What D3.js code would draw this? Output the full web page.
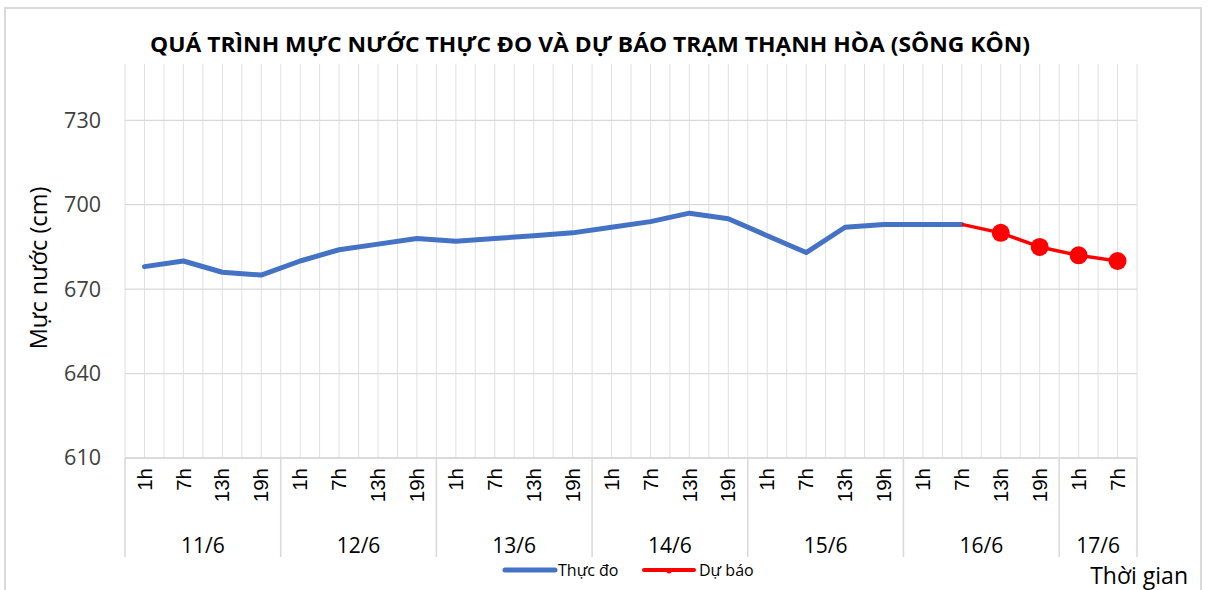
<!DOCTYPE html>
<html><head><meta charset="utf-8">
<script src="https://cdn.jsdelivr.net/npm/d3@7/dist/d3.min.js"></script>
<style>body{margin:0;background:#fff;}svg{display:block;font-family:"Open Sans","Noto Sans",sans-serif;}</style>
</head><body><svg id="c" width="1208" height="590"></svg>
<script>
const days = ["11/6","12/6","13/6","14/6","15/6","16/6","17/6"];
const dayCounts = [4,4,4,4,4,4,2];
const hours = ["1h","7h","13h","19h","1h","7h","13h","19h","1h","7h","13h","19h","1h","7h","13h","19h","1h","7h","13h","19h","1h","7h","13h","19h","1h","7h"];
const observed = [678,680,676,675,680,684,686,688,687,688,689,690,692,694,697,695,689,683,692,693,693,693,null,null,null,null];
const forecast = [null,null,null,null,null,null,null,null,null,null,null,null,null,null,null,null,null,null,null,null,null,693,690,685,682,680];
const forecastMarkers = [false,false,false,false,false,false,false,false,false,false,false,false,false,false,false,false,false,false,false,false,false,false,true,true,true,true];
const yTicks = [610,640,670,700,730];
const title = "QUÁ TRÌNH MỰC NƯỚC THỰC ĐO VÀ DỰ BÁO TRẠM THẠNH HÒA (SÔNG KÔN)";

const svg = d3.select("#c");
const L = 125, R = 1137, T = 64, B = 458;
const idx = d3.range(hours.length);
const x = d3.scaleBand().domain(idx).range([L, R]).padding(0);
const cx = i => x(i) + x.bandwidth()/2;
const y = d3.scaleLinear().domain([610, 750]).range([B, T]);

// outer border
svg.append("rect").attr("x",5).attr("y",8).attr("width",1196).attr("height",600)
  .attr("fill","none").attr("stroke","#d9d9d9").attr("stroke-width",2);

// title
svg.append("text").attr("x",590).attr("y",52).attr("text-anchor","middle")
  .attr("font-size",22).attr("font-weight","bold").attr("fill","#000")
  .attr("textLength",880).attr("lengthAdjust","spacingAndGlyphs").text(title);

// vertical gridlines (half category steps)
const vg = d3.range(0, hours.length*2+1).map(k => L + k * x.bandwidth()/2);
svg.append("g").selectAll("line").data(vg).join("line")
  .attr("x1",d=>d).attr("x2",d=>d).attr("y1",T).attr("y2",B)
  .attr("stroke","#e0e0e0").attr("stroke-width",1);

// horizontal gridlines
svg.append("g").selectAll("line").data(yTicks).join("line")
  .attr("x1",L).attr("x2",R).attr("y1",d=>y(d)).attr("y2",d=>y(d))
  .attr("stroke","#d9d9d9").attr("stroke-width",1.3);

// y axis labels
const yAxis = d3.axisLeft(y).tickValues(yTicks).tickSize(0).tickPadding(24);
const ga = svg.append("g").attr("transform",`translate(${L},0)`).call(yAxis);
ga.select(".domain").remove();
ga.selectAll("text").attr("font-size",21.5).attr("fill","#404040").attr("font-family","Open Sans, sans-serif");

svg.append("text").attr("transform","translate(47,268) rotate(-90)").attr("text-anchor","middle")
  .attr("font-size",23.5).attr("fill","#000").text("Mực nước (cm)");

// x axis: hour labels
const xAxis = d3.axisBottom(x).tickFormat(i => hours[i]).tickSize(0);
const gx = svg.append("g").attr("transform",`translate(0,${B})`).call(xAxis);
gx.select(".domain").remove();
gx.selectAll("text").attr("font-size",20.5).attr("fill","#000")
  .attr("text-anchor","end").attr("dy","0.35em")
  .attr("transform","translate(0,10) rotate(-90)").attr("x",0).attr("y",0);

// axis line
svg.append("line").attr("x1",L).attr("x2",R).attr("y1",B).attr("y2",B)
  .attr("stroke","#d9d9d9").attr("stroke-width",1.5);

// day groups
let start = 0;
const groups = days.map((d,i) => { const g = {day:d, s:start, e:start+dayCounts[i]}; start += dayCounts[i]; return g; });
const bounds = [0].concat(groups.map(g=>g.e));
svg.append("g").selectAll("line").data(bounds).join("line")
  .attr("x1",k=>L + k*x.bandwidth()).attr("x2",k=>L + k*x.bandwidth())
  .attr("y1",B).attr("y2",557).attr("stroke","#d9d9d9").attr("stroke-width",1.5);
svg.append("g").selectAll("text").data(groups).join("text")
  .attr("x",g => (x(g.s) + x(g.e-1) + x.bandwidth())/2).attr("y",553)
  .attr("text-anchor","middle").attr("font-size",21).attr("fill","#000").text(g=>g.day);

// lines
const line = d3.line().defined(d => d.v != null).x(d => cx(d.i)).y(d => y(d.v));
svg.append("path").datum(observed.map((v,i)=>({i,v})))
  .attr("d",line).attr("fill","none").attr("stroke","#4472C4").attr("stroke-width",5).attr("stroke-linejoin","round").attr("stroke-linecap","round");
svg.append("path").datum(forecast.map((v,i)=>({i,v})))
  .attr("d",line).attr("fill","none").attr("stroke","#FF0000").attr("stroke-width",3.5).attr("stroke-linejoin","round");
svg.append("g").selectAll("circle").data(forecast.map((v,i)=>({i,v})).filter(d=>d.v!=null && forecastMarkers[d.i]))
  .join("circle").attr("cx",d=>cx(d.i)).attr("cy",d=>y(d.v)).attr("r",9).attr("fill","#FF0000");

// legend
const lg = svg.append("g");
lg.append("line").attr("x1",505).attr("x2",555).attr("y1",570).attr("y2",570).attr("stroke","#4472C4").attr("stroke-width",5).attr("stroke-linecap","round");
lg.append("text").attr("x",558).attr("y",576).attr("font-size",16).attr("fill","#000").text("Thực đo");
lg.append("line").attr("x1",644).attr("x2",694).attr("y1",570).attr("y2",570).attr("stroke","#FF0000").attr("stroke-width",4).attr("stroke-linecap","round");
lg.append("circle").attr("cx",669).attr("cy",571).attr("r",2.5).attr("fill","#FF0000");
lg.append("text").attr("x",699).attr("y",576).attr("font-size",16).attr("fill","#000").text("Dự báo");

svg.append("text").attr("x",1188).attr("y",584).attr("text-anchor","end").attr("font-size",23).attr("fill","#000").text("Thời gian");
</script></body></html>
